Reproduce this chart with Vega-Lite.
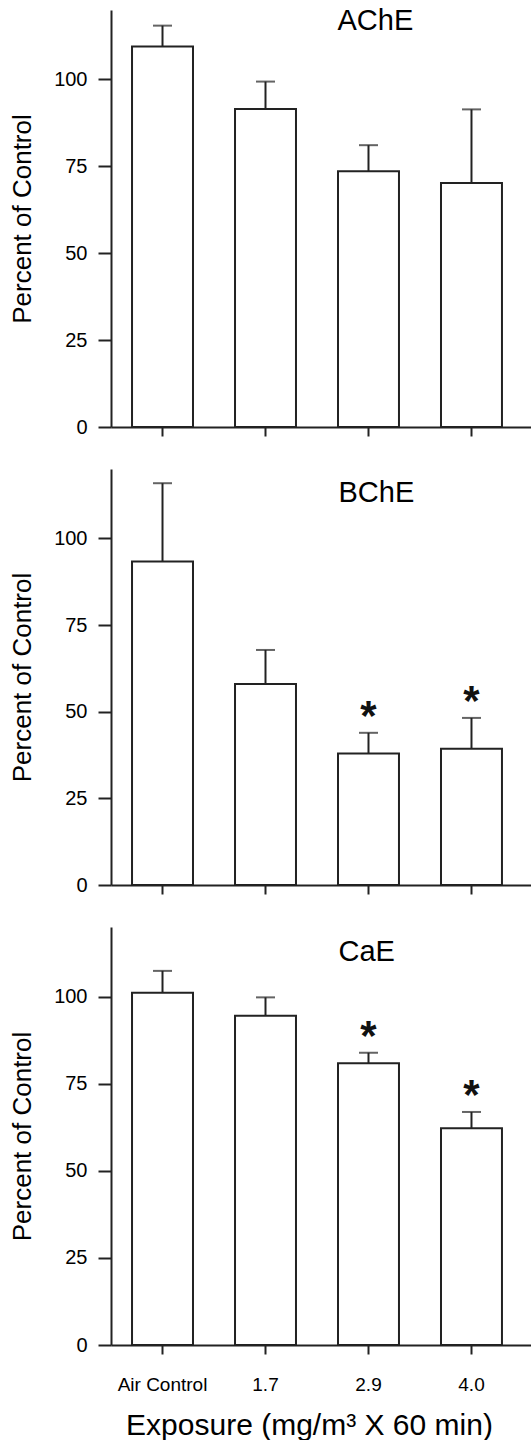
{
  "$schema": "https://vega.github.io/schema/vega-lite/v6.json",
  "background": "white",
  "padding": {"left": 9, "top": 7, "right": 0, "bottom": 0},
  "spacing": 32,
  "config": {
    "view": {"stroke": null},
    "font": "Liberation Sans"
  },
  "datasets": {
    "enz": [
      {"panel": "AChE", "group": "Air Control", "mean": 109.5, "upper": 115.5, "sig": ""},
      {"panel": "AChE", "group": "1.7", "mean": 91.5, "upper": 99.4, "sig": ""},
      {"panel": "AChE", "group": "2.9", "mean": 73.6, "upper": 81.1, "sig": ""},
      {"panel": "AChE", "group": "4.0", "mean": 70.2, "upper": 91.4, "sig": ""},
      {"panel": "BChE", "group": "Air Control", "mean": 93.3, "upper": 115.9, "sig": ""},
      {"panel": "BChE", "group": "1.7", "mean": 58.0, "upper": 67.8, "sig": ""},
      {"panel": "BChE", "group": "2.9", "mean": 37.9, "upper": 43.9, "sig": "*"},
      {"panel": "BChE", "group": "4.0", "mean": 39.3, "upper": 48.2, "sig": "*"},
      {"panel": "CaE", "group": "Air Control", "mean": 101.1, "upper": 107.4, "sig": ""},
      {"panel": "CaE", "group": "1.7", "mean": 94.5, "upper": 99.8, "sig": ""},
      {"panel": "CaE", "group": "2.9", "mean": 80.9, "upper": 83.9, "sig": "*"},
      {"panel": "CaE", "group": "4.0", "mean": 62.2, "upper": 66.9, "sig": "*"}
    ]
  },
  "vconcat": [
    {
      "width": 420,
      "height": 417,
      "data": {"name": "enz"},
      "transform": [{"filter": "datum.panel === 'AChE'"}],
      "encoding": {
        "x": {"field": "group", "type": "nominal", "sort": ["Air Control", "1.7", "2.9", "4.0"],
              "scale": {"paddingInner": 0.408, "paddingOuter": 0.243, "align": 0.42},
              "axis": {"labels": false, "title": null, "tickSize": 9, "tickWidth": 2, "domainWidth": 2, "domainColor": "#222", "tickColor": "#222", "grid": false}}
      },
      "layer": [
        {"mark": {"type": "rule", "color": "#222", "strokeWidth": 2},
         "encoding": {"y": {"field": "mean", "type": "quantitative", "title": "Percent of Control", "scale": {"domain": [0, 120]},
                            "axis": {"values": [0, 25, 50, 75, 100], "grid": false, "tickSize": 13, "tickWidth": 2, "domainWidth": 2, "domainColor": "#222", "tickColor": "#222", "labelFontSize": 20, "labelFont": "Liberation Sans", "labelColor": "black", "labelPadding": 11, "titleFontSize": 26, "titleFontWeight": "normal", "titleFont": "Liberation Sans", "titleColor": "black", "titlePadding": 18}},
                      "y2": {"field": "upper"}}},
        {"mark": {"type": "bar", "fill": "white", "stroke": "#222", "strokeWidth": 2},
         "encoding": {"y": {"field": "mean", "type": "quantitative", "title": "Percent of Control"}}},
        {"mark": {"type": "tick", "color": "#222", "thickness": 2, "size": 19},
         "encoding": {"y": {"field": "upper", "type": "quantitative", "title": "Percent of Control"}}},
        {"transform": [{"aggregate": [], "groupby": ["panel"]}],
         "mark": {"type": "text", "fontSize": 29, "align": "left", "baseline": "alphabetic", "dx": -31, "dy": 20, "color": "black"},
         "encoding": {"x": {"datum": "2.9", "type": "nominal"}, "y": {"datum": 120, "type": "quantitative"}, "text": {"field": "panel"}}}
      ]
    },
    {
      "width": 420,
      "height": 416,
      "data": {"name": "enz"},
      "transform": [{"filter": "datum.panel === 'BChE'"}],
      "encoding": {
        "x": {"field": "group", "type": "nominal", "sort": ["Air Control", "1.7", "2.9", "4.0"],
              "scale": {"paddingInner": 0.408, "paddingOuter": 0.243, "align": 0.42},
              "axis": {"labels": false, "title": null, "tickSize": 9, "tickWidth": 2, "domainWidth": 2, "domainColor": "#222", "tickColor": "#222", "grid": false}}
      },
      "layer": [
        {"mark": {"type": "rule", "color": "#222", "strokeWidth": 2},
         "encoding": {"y": {"field": "mean", "type": "quantitative", "title": "Percent of Control", "scale": {"domain": [0, 120]},
                            "axis": {"values": [0, 25, 50, 75, 100], "grid": false, "tickSize": 13, "tickWidth": 2, "domainWidth": 2, "domainColor": "#222", "tickColor": "#222", "labelFontSize": 20, "labelFont": "Liberation Sans", "labelColor": "black", "labelPadding": 11, "titleFontSize": 26, "titleFontWeight": "normal", "titleFont": "Liberation Sans", "titleColor": "black", "titlePadding": 18}},
                      "y2": {"field": "upper"}}},
        {"mark": {"type": "bar", "fill": "white", "stroke": "#222", "strokeWidth": 2},
         "encoding": {"y": {"field": "mean", "type": "quantitative", "title": "Percent of Control"}}},
        {"mark": {"type": "tick", "color": "#222", "thickness": 2, "size": 19},
         "encoding": {"y": {"field": "upper", "type": "quantitative", "title": "Percent of Control"}}},
        {"transform": [{"filter": "datum.sig === '*'"}],
         "mark": {"type": "text", "fontSize": 42, "fontWeight": "bold", "baseline": "alphabetic", "dy": -3, "color": "#111"},
         "encoding": {"y": {"field": "upper", "type": "quantitative", "title": "Percent of Control"}, "text": {"field": "sig"}}},
        {"transform": [{"aggregate": [], "groupby": ["panel"]}],
         "mark": {"type": "text", "fontSize": 29, "align": "left", "baseline": "alphabetic", "dx": -30, "dy": 33, "color": "black"},
         "encoding": {"x": {"datum": "2.9", "type": "nominal"}, "y": {"datum": 120, "type": "quantitative"}, "text": {"field": "panel"}}}
      ]
    },
    {
      "width": 420,
      "height": 418,
      "data": {"name": "enz"},
      "transform": [{"filter": "datum.panel === 'CaE'"}],
      "encoding": {
        "x": {"field": "group", "type": "nominal", "sort": ["Air Control", "1.7", "2.9", "4.0"],
              "scale": {"paddingInner": 0.408, "paddingOuter": 0.243, "align": 0.42},
              "axis": {"labelAngle": 0, "labelFontSize": 19, "labelFontWeight": "normal", "labelFont": "Liberation Sans", "labelColor": "black", "labelPadding": 21, "title": "Exposure (mg/m³ X 60 min)", "titleFont": "Liberation Sans", "titleColor": "black", "titleFontSize": 30, "titleFontWeight": "normal", "titlePadding": 16, "titleX": 198, "tickSize": 9, "tickWidth": 2, "domainWidth": 2, "domainColor": "#222", "tickColor": "#222", "grid": false}}
      },
      "layer": [
        {"mark": {"type": "rule", "color": "#222", "strokeWidth": 2},
         "encoding": {"y": {"field": "mean", "type": "quantitative", "title": "Percent of Control", "scale": {"domain": [0, 120]},
                            "axis": {"values": [0, 25, 50, 75, 100], "grid": false, "tickSize": 13, "tickWidth": 2, "domainWidth": 2, "domainColor": "#222", "tickColor": "#222", "labelFontSize": 20, "labelFont": "Liberation Sans", "labelColor": "black", "labelPadding": 11, "titleFontSize": 26, "titleFontWeight": "normal", "titleFont": "Liberation Sans", "titleColor": "black", "titlePadding": 18}},
                      "y2": {"field": "upper"}}},
        {"mark": {"type": "bar", "fill": "white", "stroke": "#222", "strokeWidth": 2},
         "encoding": {"y": {"field": "mean", "type": "quantitative", "title": "Percent of Control"}}},
        {"mark": {"type": "tick", "color": "#222", "thickness": 2, "size": 19},
         "encoding": {"y": {"field": "upper", "type": "quantitative", "title": "Percent of Control"}}},
        {"transform": [{"filter": "datum.sig === '*'"}],
         "mark": {"type": "text", "fontSize": 42, "fontWeight": "bold", "baseline": "alphabetic", "dy": -3, "color": "#111"},
         "encoding": {"y": {"field": "upper", "type": "quantitative", "title": "Percent of Control"}, "text": {"field": "sig"}}},
        {"transform": [{"aggregate": [], "groupby": ["panel"]}],
         "mark": {"type": "text", "fontSize": 29, "align": "left", "baseline": "alphabetic", "dx": -30, "dy": 34, "color": "black"},
         "encoding": {"x": {"datum": "2.9", "type": "nominal"}, "y": {"datum": 120, "type": "quantitative"}, "text": {"field": "panel"}}}
      ]
    }
  ]
}
